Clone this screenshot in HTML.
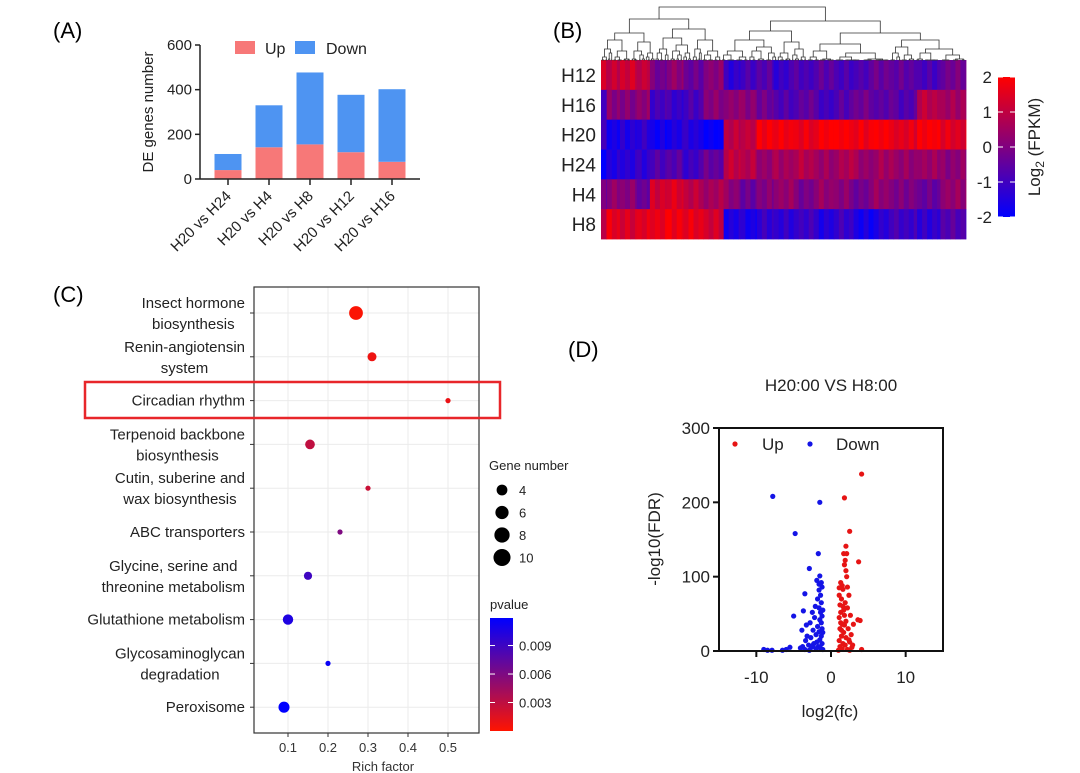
<!DOCTYPE html>
<html><head><meta charset="utf-8">
<style>
html,body{margin:0;padding:0;background:#fff;}
svg{display:block;font-family:"Liberation Sans",Arial,sans-serif;}
</style></head>
<body>
<svg id="fig" width="1080" height="773" viewBox="0 0 1080 773">
  <rect width="1080" height="773" fill="#fff"/>
  <text x="53" y="38" font-size="22">(A)</text>
  <text x="553" y="38" font-size="22">(B)</text>
  <text x="53" y="302" font-size="22">(C)</text>
  <text x="568" y="357" font-size="22">(D)</text>
  <g id="pa"></g>
  <g id="pb"></g>
  <g id="pc"></g>
  <g id="pd"></g>
</svg>
<script>
// ---------- Panel A data ----------
const aCategories = ["H20 vs H24","H20 vs H4","H20 vs H8","H20 vs H12","H20 vs H16"];
const aUp = [40,142,155,120,77];
const aDown = [72,188,322,257,325];
const aTicks = [0,200,400,600];

// ---------- Panel B data ----------
const bRows = ["H12","H16","H20","H24","H4","H8"];
const bSegBounds = [0,0.016,0.052,0.098,0.134,0.18,0.226,0.281,0.336,0.382,0.427,0.473,0.528,0.583,0.638,0.692,0.747,0.802,0.866,0.93,1];
const bH12 = [1.2,1.0,1.3,1.1,-0.2,0.3,-0.4,0.2,-1.2,-0.9,-0.6,-1.1,-0.8,-0.5,-0.9,-0.7,-0.3,-0.5,-0.8,-0.2];
const bH16 = [-0.8,0.2,0.0,0.3,-0.9,-1.1,-0.8,0.1,0.3,0.2,-0.3,-0.7,-0.5,-0.9,-0.6,-0.3,-0.5,-0.7,0.9,0.6];
const bH20 = [-1.0,-1.6,-1.4,-1.3,-1.7,-1.5,-1.4,-2.0,0.9,1.1,1.9,1.8,1.7,1.9,2.0,1.8,1.9,1.6,2.0,1.5];
const bH24 = [-1.8,-1.5,-1.3,-1.2,-0.8,-0.6,-1.0,-0.4,1.1,0.8,0.4,0.6,0.8,0.5,0.7,0.4,0.6,0.3,0.5,0.2];
const bH4 = [-0.3,0.3,0.1,-0.3,1.3,1.4,1.0,0.6,0.2,-0.3,0.0,0.4,-0.1,0.3,0.2,-0.2,0.3,0.0,-0.4,0.4];
const bH8 = [1.2,1.6,1.4,1.5,1.7,1.8,1.6,1.3,-1.5,-1.6,-1.1,-1.3,-1.0,-1.4,-1.1,-1.6,-1.3,-1.0,-1.2,-0.7];
const bJitter = [0.2,-0.3,0.1,-0.15,0.3,-0.2,0.05,-0.25];
const bTicks = [2,1,0,-1,-2];

// ---------- Panel C data ----------
const cPathways = [["Insect hormone","biosynthesis"],["Renin-angiotensin","system"],["Circadian rhythm"],["Terpenoid backbone","biosynthesis"],["Cutin, suberine and","wax biosynthesis"],["ABC transporters"],["Glycine, serine and","threonine metabolism"],["Glutathione metabolism"],["Glycosaminoglycan","degradation"],["Peroxisome"]];
const cRich = [0.27,0.31,0.5,0.155,0.3,0.23,0.15,0.1,0.2,0.09];
const cGenes = [7,3,1,3.5,1,1,2.5,4,1,4.5];
const cPval = [0.0002,0.0008,0.001,0.003,0.0025,0.006,0.009,0.0105,0.0115,0.0119];
const cXTicks = [0.1,0.2,0.3,0.4,0.5];
const cSizeLegend = [4,6,8,10];
const cPTicks = [0.009,0.006,0.003];

// ---------- Panel D data ----------
const dDownX = [-7.8,-1.5,-4.8,-1.7,-2.9,-3.5,-5,-1.5,-1.3,-1.6,-1.2,-1.4,-1.3,-1.6,-1.4,-1.2,-1.5,-1.3,-2.5,-3.7,-2.2,-2.8,-3.3,-2.4,-1.8,-3.9,-1.6,-2.0,-1.3,-2.7,-3.4,-1.5,-1.9,-2.3,-1.2,-3.0,-3.8,-4.1,-2.6,-1.7,-1.4,-2.0,-3.5,-1.1,-2.9,-5.5,-6,-6.5,-8.5,-9,-7.9,-1.2,-1.8,-2.1,-1.1,-1.6,-1.9,-1.1,-2.4,-3.2];
const dDownY = [208,200,158,131,111,77,47,101,92,90,86,75,65,58,52,47,42,38,52,54,45,38,35,28,33,28,26,22,20,18,14,15,12,10,10,8,6,4,5,6,4,3,2,2,1,5,2,1,1,2,1,30,70,60,55,82,95,25,8,20];
const dUpX = [4.1,1.8,2.5,2.0,1.7,2.1,3.7,1.9,1.8,2.0,2.1,1.3,1.5,1.6,2.2,1.1,2.4,1.4,1.9,1.2,1.6,2.2,1.3,1.8,2.6,3.6,3.9,1.1,2.0,1.5,3.0,1.2,2.3,1.7,2.7,1.4,2.0,1.1,2.5,1.6,1.9,1.2,2.8,1.5,2.2,4.1,1.0,2.5,1.3,1.7,1.1,1.8,2.4,1.4,2.9];
const dUpY = [238,206,161,141,131,131,120,122,116,108,100,92,88,83,86,75,75,70,65,62,60,58,52,48,48,42,41,45,40,36,36,30,30,25,22,20,18,14,12,10,8,6,5,3,2,2,1,1,38,55,85,35,15,28,8];
const dXTicks = [-10,0,10];
const dYTicks = [0,100,200,300];

const NS="http://www.w3.org/2000/svg";
function mk(parent,tag,attrs,text){const e=document.createElementNS(NS,tag);for(const k in attrs)e.setAttribute(k,attrs[k]);if(text!==undefined)e.textContent=text;parent.appendChild(e);return e;}

// ================= Panel A =================
(function(){
  const g=document.getElementById('pa');
  const X0=200,Y0=179,YT=45,yMax=600;
  const y=v=>Y0-(v/yMax)*(Y0-YT);
  const xc=i=>228+i*41;
  const bw=27;
  aCategories.forEach((c,i)=>{
    const up=mk(g,'rect',{x:xc(i)-bw/2,y:y(aUp[i]),width:bw,height:Y0-y(aUp[i]),fill:'#F77878'});
    
    
    const dn=mk(g,'rect',{x:xc(i)-bw/2,y:y(aUp[i]+aDown[i]),width:bw,height:y(aUp[i])-y(aUp[i]+aDown[i]),fill:'#4E94F2'});
    
    
    mk(g,'line',{x1:xc(i),x2:xc(i),y1:Y0,y2:Y0+6,stroke:'#222','stroke-width':1.5});
    const t=mk(g,'text',{x:xc(i)+4,y:Y0+18,'font-size':15,'text-anchor':'end',transform:`rotate(-45 ${xc(i)+4} ${Y0+18})`,fill:'#222'},c);
    
    
  });
  mk(g,'line',{x1:X0,x2:X0,y1:YT,y2:Y0,stroke:'#222','stroke-width':1.5});
  mk(g,'line',{x1:X0,x2:420,y1:Y0,y2:Y0,stroke:'#222','stroke-width':1.5});
  aTicks.forEach(v=>{
    mk(g,'line',{x1:X0-5,x2:X0,y1:y(v),y2:y(v),stroke:'#222','stroke-width':1.5});
    const t=mk(g,'text',{x:X0-8,y:y(v)+5,'font-size':15,'text-anchor':'end',fill:'#222'},v);
    
    
  });
  const yl=mk(g,'text',{x:153,y:112,'font-size':15,'text-anchor':'middle',transform:'rotate(-90 153 112)',fill:'#222'},'DE genes number');
  
  
  const l1=mk(g,'rect',{x:235,y:41,width:20,height:13,fill:'#F77878'});
  
  
  mk(g,'text',{x:265,y:54,'font-size':16,fill:'#222'},'Up');
  const l2=mk(g,'rect',{x:295,y:41,width:20,height:13,fill:'#4E94F2'});
  
  
  mk(g,'text',{x:326,y:54,'font-size':16,fill:'#222'},'Down');
})();

// ================= Panel B =================
function heatColor(v){
  const t=Math.max(-2,Math.min(2,v));
  const f=(t+2)/4;
  return `rgb(${Math.round(255*f)},0,${Math.round(255*(1-f))})`;
}
(function(){
  const g=document.getElementById('pb');
  const L=601,R=966,T=60,B=239;
  const rowH=(B-T)/bRows.length;
  const data=[bH12,bH16,bH20,bH24,bH4,bH8];
  const stripe=5;
  data.forEach((row,r)=>{
    for(let s=0;s<row.length;s++){
      const x0=L+bSegBounds[s]*(R-L), x1=L+bSegBounds[s+1]*(R-L);
      let k=0;
      for(let x=x0;x<x1;x+=stripe,k++){
        const w=Math.min(stripe,x1-x);
        const v=row[s]+bJitter[(k+s*3+r*5)%bJitter.length];
        const c=mk(g,'rect',{x:x,y:T+r*rowH,width:w+0.4,height:rowH+0.4,fill:heatColor(v)});
        
        
      }
    }
    const t=mk(g,'text',{x:596,y:T+r*rowH+rowH/2+7,'font-size':19,'text-anchor':'end',fill:'#222'},bRows[r]);
    
    
  });
  const splits=[0.33,0.45,0.55,0.4,0.6,0.5,0.35,0.65,0.48,0.52];
  let si=0;
  const dg=mk(g,'g',{stroke:'#333','stroke-width':0.8,fill:'none'});
  
  
  function node(x0,x1,h,depth){
    if(depth>=8||x1-x0<2){return (x0+x1)/2;}
    const sp=splits[(si++)%splits.length];
    const xm=x0+(x1-x0)*sp;
    const hc=h+ (depth<2?10:(depth<4?7:4));
    const hL=Math.min(T,hc+((si%3)*2)), hR=Math.min(T,hc+(((si+1)%3)*2));
    const cl=node(x0,xm,hL,depth+1);
    const cr=node(xm,x1,hR,depth+1);
    mk(dg,'path',{d:`M${cl},${depth>=7?T:hL} V${h} H${cr} V${depth>=7?T:hR}`});
    return (cl+cr)/2;
  }
  node(L,R,7,0);
  const cbT=77,cbB=217;
  const grad=mk(g,'linearGradient',{id:'hg',x1:0,y1:1,x2:0,y2:0});
  mk(grad,'stop',{offset:'0%','stop-color':heatColor(-2)});
  mk(grad,'stop',{offset:'50%','stop-color':heatColor(0)});
  mk(grad,'stop',{offset:'100%','stop-color':heatColor(2)});
  const cb=mk(g,'rect',{x:998,y:cbT,width:17,height:cbB-cbT,fill:'url(#hg)'});
  
  
  bTicks.forEach(v=>{
    const yy=cbT+(2-v)/4*(cbB-cbT);
    mk(g,'line',{x1:998,x2:1003,y1:yy,y2:yy,stroke:'#fff','stroke-width':1});
    mk(g,'line',{x1:1010,x2:1015,y1:yy,y2:yy,stroke:'#fff','stroke-width':1});
    mk(g,'text',{x:992,y:yy+6,'font-size':17,'text-anchor':'end',fill:'#222'},v);
  });
  const tt=mk(g,'text',{x:1040,y:147,'font-size':17,'text-anchor':'middle',transform:'rotate(-90 1040 147)',fill:'#222'});
  
  
  mk(tt,'tspan',{},'Log');
  mk(tt,'tspan',{'font-size':12,dy:4},'2');
  mk(tt,'tspan',{dy:-4},' (FPKM)');
})();

// ================= Panel C =================
function pColor(p){
  const f=Math.max(0,Math.min(1,p/0.0119));
  return `rgb(${Math.round(255*(1-f))},${Math.round(20*(1-f))},${Math.round(255*f)})`;
}
(function(){
  const g=document.getElementById('pc');
  const L=254,R=479,T=287,B=733;
  const x=v=>248+v*400;
  const y=i=>313+i*43.8;
  mk(g,'rect',{x:L,y:T,width:R-L,height:B-T,fill:'#fff'});
  cXTicks.forEach(v=>{
    mk(g,'line',{x1:x(v),x2:x(v),y1:T,y2:B,stroke:'#ebebeb','stroke-width':1});
    mk(g,'line',{x1:x(v),x2:x(v),y1:B,y2:B+4,stroke:'#333'});
    const t=mk(g,'text',{x:x(v),y:B+19,'font-size':13,'text-anchor':'middle',fill:'#333'},v.toFixed(1));
    
    
  });
  cPathways.forEach((lines,i)=>{
    mk(g,'line',{x1:L,x2:R,y1:y(i),y2:y(i),stroke:'#ebebeb','stroke-width':1});
    mk(g,'line',{x1:L-4,x2:L,y1:y(i),y2:y(i),stroke:'#333'});
    const grp=mk(g,'g',{});
    
    
    const ts=lines.map((ln,j)=>mk(grp,'text',{x:0,y:y(i)+5+(lines.length===2?(j===0?-10:11):0),'font-size':15,'text-anchor':'middle',fill:'#222'},ln));
    let w=0;ts.forEach(t=>{w=Math.max(w,t.getComputedTextLength());});
    ts.forEach(t=>t.setAttribute('x',245-w/2));
  });
  mk(g,'rect',{x:L,y:T,width:R-L,height:B-T,fill:'none',stroke:'#333','stroke-width':1.2});
  cRich.forEach((v,i)=>{
    const c=mk(g,'circle',{cx:x(v),cy:y(i),r:2.6*Math.sqrt(cGenes[i]),fill:pColor(cPval[i])});
    
    
  });
  const xl=mk(g,'text',{x:383,y:771,'font-size':13,'text-anchor':'middle',fill:'#333'},'Rich factor');
  
  
  const hb=mk(g,'rect',{x:85,y:382,width:415,height:36,fill:'none',stroke:'#e8262a','stroke-width':2.5});
  
  
  mk(g,'text',{x:489,y:470,'font-size':13,fill:'#222'},'Gene number');
  cSizeLegend.forEach((n,k)=>{
    const cy=490+k*22.5;
    const c=mk(g,'circle',{cx:502,cy:cy,r:2.7*Math.sqrt(n),fill:'#000'});
    
    
    mk(g,'text',{x:519,y:cy+5,'font-size':13,fill:'#222'},n);
  });
  mk(g,'text',{x:490,y:609,'font-size':13,fill:'#222'},'pvalue');
  const grad=mk(g,'linearGradient',{id:'pg',x1:0,y1:1,x2:0,y2:0});
  mk(grad,'stop',{offset:'0%','stop-color':pColor(0)});
  mk(grad,'stop',{offset:'50%','stop-color':pColor(0.006)});
  mk(grad,'stop',{offset:'100%','stop-color':pColor(0.0119)});
  const cb=mk(g,'rect',{x:490,y:618,width:23,height:113,fill:'url(#pg)'});
  
  
  cPTicks.forEach(v=>{
    const yy=731-v/0.0119*113;
    mk(g,'line',{x1:490,x2:495,y1:yy,y2:yy,stroke:'#fff'});
    mk(g,'line',{x1:508,x2:513,y1:yy,y2:yy,stroke:'#fff'});
    mk(g,'text',{x:519,y:yy+5,'font-size':13,fill:'#222'},v.toFixed(3));
  });
})();

// ================= Panel D =================
(function(){
  const g=document.getElementById('pd');
  const L=719,R=943,T=428,B=651;
  const x=v=>L+(v+15)/30*(R-L);
  const y=v=>B-v/300*(B-T);
  const tt=mk(g,'text',{x:831,y:391,'font-size':17,'text-anchor':'middle',fill:'#222'},'H20:00 VS H8:00');
  
  
  dDownX.forEach((v,i)=>{
    const c=mk(g,'circle',{cx:x(v),cy:y(dDownY[i]),r:2.6,fill:'#1414e6'});
    
    
  });
  dUpX.forEach((v,i)=>{
    const c=mk(g,'circle',{cx:x(v),cy:y(dUpY[i]),r:2.6,fill:'#e61414'});
    
    
  });
  mk(g,'rect',{x:L,y:T,width:R-L,height:B-T,fill:'none',stroke:'#111','stroke-width':2});
  dYTicks.forEach(v=>{
    mk(g,'line',{x1:L-6,x2:L,y1:y(v),y2:y(v),stroke:'#111','stroke-width':2});
    const t=mk(g,'text',{x:L-9,y:y(v)+6,'font-size':17,'text-anchor':'end',fill:'#222'},v);
    
    
  });
  dXTicks.forEach(v=>{
    mk(g,'line',{x1:x(v),x2:x(v),y1:B,y2:B+6,stroke:'#111','stroke-width':2});
    const t=mk(g,'text',{x:x(v),y:B+32,'font-size':17,'text-anchor':'middle',fill:'#222'},v);
    
    
  });
  const yl=mk(g,'text',{x:660,y:539,'font-size':17,'text-anchor':'middle',transform:'rotate(-90 660 539)',fill:'#222'},'-log10(FDR)');
  
  
  const xl=mk(g,'text',{x:830,y:717,'font-size':17,'text-anchor':'middle',fill:'#222'},'log2(fc)');
  
  
  const d1=mk(g,'circle',{cx:735,cy:444,r:2.6,fill:'#e61414'});
  
  
  mk(g,'text',{x:762,y:450,'font-size':17,fill:'#222'},'Up');
  const d2=mk(g,'circle',{cx:810,cy:444,r:2.6,fill:'#1414e6'});
  
  
  mk(g,'text',{x:836,y:450,'font-size':17,fill:'#222'},'Down');
})();
</script>
</body></html>
